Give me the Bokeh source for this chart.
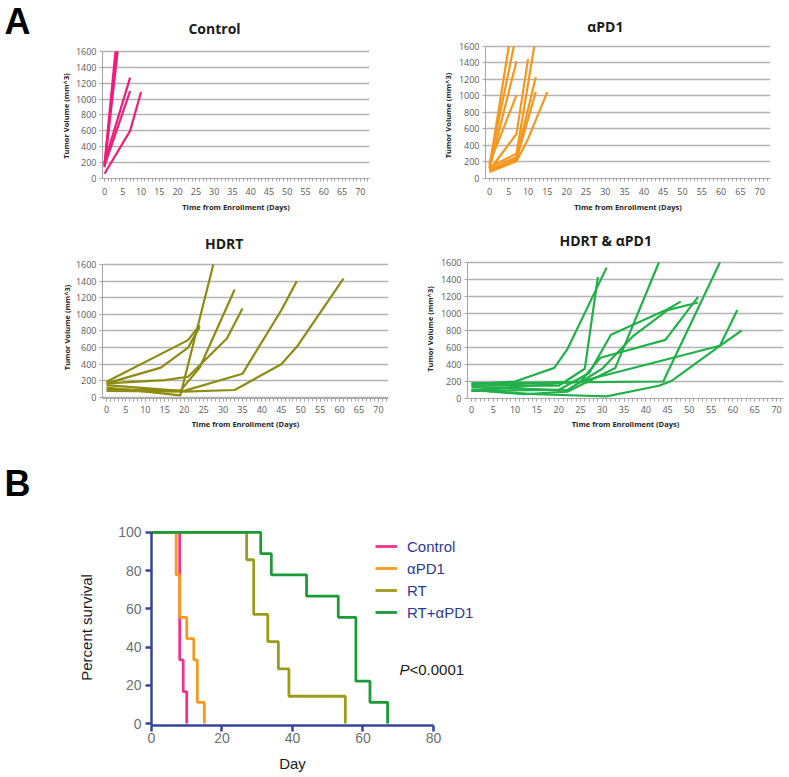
import math
from bokeh.plotting import figure
from bokeh.layouts import column, row
from bokeh.models import Range1d, FixedTicker, Label, Legend, LegendItem
from bokeh.embed import file_html
from bokeh.resources import INLINE

# ---------------- data ----------------
day_ticks = [0, 5, 10, 15, 20, 25, 30, 35, 40, 45, 50, 55, 60, 65, 70]
day_minor = list(range(0, 73))
vol_ticks = [0, 200, 400, 600, 800, 1000, 1200, 1400, 1600]

control_days = [[0, 3], [0, 3.6], [0, 7], [0, 7], [0, 7, 10], [0, 3.3]]
control_vols = [[180, 1600], [140, 1600], [200, 1270], [160, 1100], [60, 600, 1090], [160, 1600]]

apd1_days = [[0, 5], [0, 6.3], [0, 7], [0, 7], [0, 7, 10], [0, 7, 11.6],
             [0, 7, 12], [0, 7, 12], [0, 7, 10, 15]]
apd1_vols = [[130, 1600], [160, 1600], [120, 1420], [180, 1010], [100, 540, 1450],
             [140, 300, 1600], [110, 260, 1230], [90, 230, 1050], [80, 210, 480, 1050]]

hdrt_days = [[0, 21, 24], [0, 14, 21, 24], [0, 19, 27.5], [0, 19, 24, 33],
             [0, 15, 21, 31, 35], [0, 20, 35, 45, 49], [0, 20, 33, 45, 49, 61]]
hdrt_vols = [[190, 690, 870], [170, 360, 600, 850], [120, 25, 1600], [150, 80, 360, 1300],
             [170, 210, 250, 710, 1070], [100, 80, 285, 1050, 1400], [80, 70, 90, 400, 610, 1430]]

combo_days = [[0, 20, 26, 29], [0, 10, 19, 22, 31], [0, 12, 22, 33, 43],
              [0, 20, 27, 32, 45, 48], [0, 25, 29.6, 44.5, 52], [0, 22, 30, 37, 45, 52],
              [0, 22, 44, 57], [0, 15, 31, 43, 46, 57, 61], [0, 25, 57, 62]]
combo_vols = [[150, 150, 350, 1430], [170, 200, 360, 580, 1540], [100, 50, 80, 360, 1600],
              [90, 100, 300, 750, 1050, 1140], [150, 200, 480, 690, 1195], [130, 100, 350, 730, 1040, 1130],
              [180, 190, 200, 1600], [100, 50, 25, 150, 210, 620, 1040], [90, 200, 620, 800]]

surv_groups = ["Control", "\u03b1PD1", "RT", "RT+\u03b1PD1"]
surv_control_day = [0, 8, 9, 10]
surv_control_pct = [100, 33.3, 16.7, 0]
surv_apd1_day = [0, 7, 8, 10, 12, 13, 15]
surv_apd1_pct = [100, 77.8, 55.6, 44.4, 33.3, 11.1, 0]
surv_rt_day = [0, 27, 29, 33, 36, 39, 55]
surv_rt_pct = [100, 85.7, 57.1, 42.9, 28.6, 14.3, 0]
surv_combo_day = [0, 31, 34, 44, 53, 58, 62, 67]
surv_combo_pct = [100, 88.9, 77.8, 66.7, 55.6, 22.2, 11.1, 0]
surv_day_ticks = [0, 20, 40, 60, 80]
surv_pct_ticks = [0, 20, 40, 60, 80, 100]

Y_TITLE = "Tumor Volume (mm^3)"
X_TITLE = "Time from Enrollment (Days)"

# ---------------- style ----------------
XL_FONT = "Open Sans"
AR_FONT = "Liberation Sans"
PINK = "#ec1f7b"
ORANGE = "#f7961c"
OLIVE = "#8c8c12"
GREEN = "#22b04b"
S_PINK = "#ee3488"
S_ORANGE = "#f59b22"
S_OLIVE = "#9c9c1c"
S_GREEN = "#1c9a38"
NAVY = "#34449a"


def text_panel(w, h, texts):
    """A blank figure used only to hold text labels outside the plot frames."""
    f = figure(width=w, height=h, x_range=Range1d(0, 1), y_range=Range1d(0, 1),
               output_backend="svg", toolbar_location=None, title=None,
               x_axis_location=None, y_axis_location=None, min_border=0)
    f.outline_line_color = None
    f.grid.visible = False
    for t in texts:
        f.add_layout(Label(text_align="center", text_baseline="middle", **t))
    return f


def ylab(fx, fy):
    return dict(x=fx, y=fy, text=Y_TITLE, angle=math.pi / 2, text_font=XL_FONT,
                text_font_size="7.5px", text_font_style="bold", text_color="#262626")


def letter(ch, fx, fy):
    return dict(x=fx, y=fy, text=ch, text_font=AR_FONT, text_font_size="36px",
                text_font_style="bold", text_color="black")


def tumor_panel(title, days_sets, vol_sets, color, w, h, bl, br, bt, bb, xr, yr, title_xy,
                lab_stand=4, title_stand=3):
    p = figure(width=w, height=h, x_range=Range1d(*xr), y_range=Range1d(*yr),
               output_backend="svg", toolbar_location=None, title=None,
               min_border_left=bl, min_border_right=br, min_border_top=bt, min_border_bottom=bb)
    p.outline_line_color = None
    p.xgrid.visible = False
    p.ygrid.ticker = FixedTicker(ticks=vol_ticks)
    p.ygrid.grid_line_color = "#b3b3b3"
    p.ygrid.grid_line_width = 1.4
    p.xaxis.ticker = FixedTicker(ticks=day_ticks, minor_ticks=day_minor)
    p.yaxis.ticker = FixedTicker(ticks=vol_ticks)
    p.yaxis.bounds = (yr[0], vol_ticks[-1])
    p.xaxis.axis_label = X_TITLE
    for ax in p.axis:
        ax.axis_line_color = "#a6a6a6"
        ax.axis_line_width = 1
        ax.major_tick_line_color = "#a6a6a6"
        ax.minor_tick_line_color = "#a6a6a6"
        ax.major_tick_in = 0
        ax.minor_tick_in = 0
        ax.major_tick_out = 3
        ax.minor_tick_out = 3
        ax.major_label_text_font = XL_FONT
        ax.major_label_text_font_size = "9px"
        ax.major_label_text_color = "#595959"
        ax.axis_label_text_font = XL_FONT
        ax.axis_label_text_font_size = "7.5px"
        ax.axis_label_text_font_style = "bold"
        ax.axis_label_text_color = "#262626"
    p.xaxis.major_label_standoff = lab_stand
    p.xaxis.axis_label_standoff = title_stand
    p.yaxis.major_label_standoff = 3
    p.yaxis.minor_tick_out = 0
    for d, v in zip(days_sets, vol_sets):
        p.line(d, v, line_color=color, line_width=2.2)
    p.add_layout(Label(x=title_xy[0], y=title_xy[1], text=title, text_align="center",
                       text_baseline="middle", text_font=XL_FONT, text_font_size="14px",
                       text_font_style="bold", text_color="#1a1a1a"))
    return p


# row 1: frames from y=4 to y=178
fA = text_panel(72, 215, [letter("A", 0.236, 0.902), ylab(0.903, 0.359)])
p1 = tumor_panel("Control", control_days, control_vols, PINK, 323, 215, 30, 26, 4, 37,
                 (-0.55, 72.5), (0, 2192), (30.1, 1890), 6, 4)
g2 = text_panel(60, 215, [ylab(0.883, 0.362)])
p2 = tumor_panel("\u03b1PD1", apd1_days, apd1_vols, ORANGE, 330, 215, 29, 15, 4, 37,
                 (-1.03, 72.8), (0, 2109), (30.0, 1842), 6, 4)
# row 2: frames from y=223 to y=398
g3 = text_panel(72, 217, [ylab(0.917, 0.406)])
p3 = tumor_panel("HDRT", hdrt_days, hdrt_vols, OLIVE, 323, 217, 29, 7, 8, 34,
                 (-1.03, 72.6), (-12, 2093), (30.3, 1853))
g4 = text_panel(42, 217, [ylab(0.833, 0.397)])
p4 = tumor_panel("HDRT & \u03b1PD1", combo_days, combo_vols, GREEN, 348, 217, 30, 2, 8, 34,
                 (-0.92, 71.6), (0, 2059), (30.8, 1859))

# ---------------- survival ----------------
fB = text_panel(40, 75, [letter("B", 0.425, 0.32)])
g5 = text_panel(100, 243, [dict(x=0.86, y=0.503, text="Percent survival", angle=math.pi / 2,
                                text_font=AR_FONT, text_font_size="15px",
                                text_color="#1a1a1a")])
p5 = figure(width=400, height=243, x_range=Range1d(0, 96.2), y_range=Range1d(-1, 101),
            output_backend="svg", toolbar_location=None, title=None,
            min_border_left=51, min_border_right=10, min_border_top=23, min_border_bottom=25)
p5.outline_line_color = None
p5.grid.visible = False
p5.xaxis.ticker = FixedTicker(ticks=surv_day_ticks)
p5.yaxis.ticker = FixedTicker(ticks=surv_pct_ticks)
p5.xaxis.bounds = (0, 80)
p5.yaxis.bounds = (-1, 100)
for ax in p5.axis:
    ax.axis_line_color = NAVY
    ax.axis_line_width = 2.5
    ax.major_tick_line_color = NAVY
    ax.major_tick_line_width = 2.5
    ax.major_tick_in = 0
    ax.major_tick_out = 6
    ax.minor_tick_out = 0
    ax.minor_tick_in = 0
    ax.major_label_text_font = AR_FONT
    ax.major_label_text_font_size = "14px"
    ax.major_label_text_color = "#6e6e6e"
p5.xaxis.major_label_standoff = 1
p5.yaxis.major_label_standoff = 4

surv_sets = [(surv_control_day, surv_control_pct, S_PINK),
             (surv_apd1_day, surv_apd1_pct, S_ORANGE),
             (surv_rt_day, surv_rt_pct, S_OLIVE),
             (surv_combo_day, surv_combo_pct, S_GREEN)]
items = []
for name, (d, v, c) in zip(surv_groups, surv_sets):
    r = p5.step(d, v, mode="after", line_color=c, line_width=2.8)
    t = p5.scatter(x=[], y=[], marker="dash", angle=math.pi / 2, size=7,
                   line_color=c, line_width=2)
    items.append(LegendItem(label=name, renderers=[r, t]))

legend = Legend(items=items, location=(224, 103), orientation="vertical",
                padding=0, margin=0, spacing=2, glyph_width=22, glyph_height=20,
                label_height=20, label_standoff=10, border_line_color=None,
                background_fill_alpha=0, label_text_font=AR_FONT,
                label_text_font_size="15px", label_text_color="#2b3990")
p5.add_layout(legend, "center")

p5.add_layout(Label(x=70.35, y=28.3, text="P", text_align="left", text_baseline="middle",
                    text_font=AR_FONT, text_font_size="15px", text_font_style="italic",
                    text_color="#1a1a1a"))
p5.add_layout(Label(x=73.2, y=28.3, text="<0.0001", text_align="left", text_baseline="middle",
                    text_font=AR_FONT, text_font_size="15px", text_color="#1a1a1a"))

fDay = text_panel(500, 25, [dict(x=0.584, y=0.48, text="Day", text_font=AR_FONT,
                                 text_font_size="15px", text_color="#1a1a1a")])

layout = column(row(fA, p1, g2, p2), row(g3, p3, g4, p4), fB, row(g5, p5), fDay)
open("out.html", "w").write(file_html(layout, INLINE))
